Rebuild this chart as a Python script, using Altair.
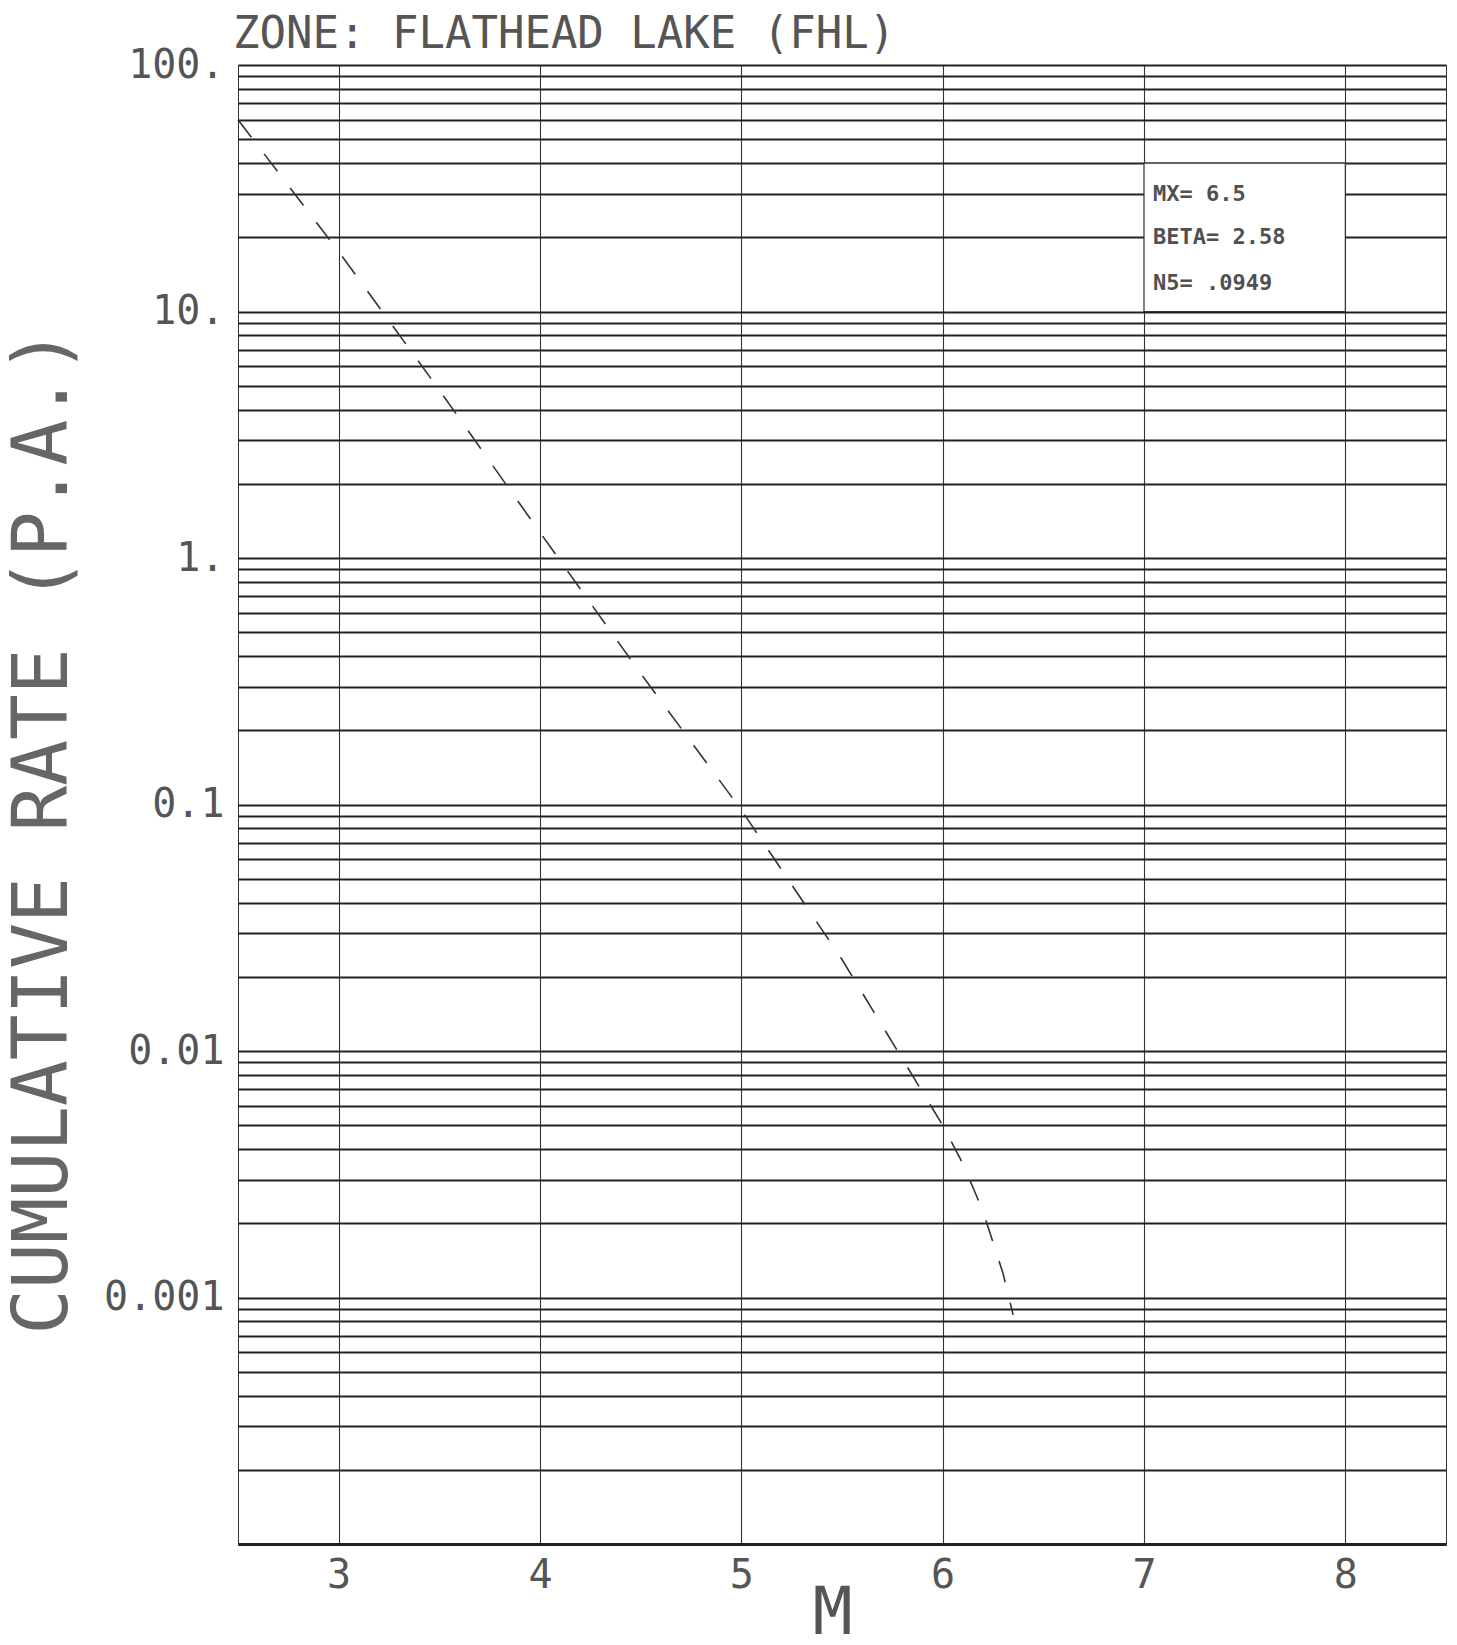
import altair as alt
import pandas as pd

# ---- data ----
curve_m = [2.5, 3.0, 3.5, 4.0, 4.5, 5.0, 5.5, 6.0, 6.1, 6.2, 6.3, 6.35]
curve_rate = [60, 17.5, 4.8, 1.27, 0.34, 0.095, 0.0235, 0.005, 0.0035, 0.00224, 0.00125, 0.00085]

x_ticks = [3, 4, 5, 6, 7, 8]
y_label_values = [100, 10, 1, 0.1, 0.01, 0.001]
y_label_text = ["100.", "10.", "1.", "0.1", "0.01", "0.001"]
grid_mantissas = [1, 2, 3, 4, 5, 6, 7, 8, 9]
grid_decades = [-4, -3, -2, -1, 0, 1]

box_m = [7.0, 8.0]
box_rate = [10, 40]
legend_lines = ["MX= 6.5", "BETA= 2.58", "N5= .0949"]
legend_rate = [30, 20, 13]
legend_m = 7.045

title_text = "ZONE: FLATHEAD LAKE (FHL)"

grid_values = [round(m * 10.0 ** d, 6) for d in grid_decades for m in grid_mantissas] + [100]

label_expr = "''"
for v, t in zip(reversed(y_label_values), reversed(y_label_text)):
    label_expr = f"abs(datum.value - {v}) < {v}*1e-6 ? '{t}' : ({label_expr})"

MONO = "DejaVu Sans Mono"
INK = "#333333"
TXT = "#555555"

xscale = alt.Scale(domain=[2.5, 8.5], nice=False, zero=False)
yscale = alt.Scale(type="log", domain=[0.0001, 100], nice=False)

curve_df = pd.DataFrame({"M": curve_m, "rate": curve_rate})
box_df = pd.DataFrame({"m1": [box_m[0]], "m2": [box_m[1]], "r1": [box_rate[0]], "r2": [box_rate[1]]})
legend_df = pd.DataFrame({"m": [legend_m] * len(legend_lines), "rate": legend_rate, "txt": legend_lines})
title_df = pd.DataFrame({"t": [title_text]})

x_axis = alt.Axis(
    values=x_ticks, format="d", grid=True, gridColor=INK, gridWidth=1.1, ticks=False,
    domain=True, domainColor="#222222", domainWidth=3,
    labelFont=MONO, labelFontSize=40, labelColor=TXT, labelPadding=11,
    title="M", titleFont=MONO, titleFontSize=66, titleFontWeight="normal",
    titleColor=TXT, titleX=594, titleY=89, titleBaseline="alphabetic",
)
y_axis = alt.Axis(
    values=grid_values, grid=True, gridColor="#222222", gridWidth=2.1, ticks=False,
    domain=False, labelExpr=label_expr, labelFont=MONO, labelFontSize=40,
    labelColor=TXT, labelPadding=14, labelBaseline="middle",
    title="CUMULATIVE RATE (P.A.)", titleFont=MONO, titleFontSize=76,
    titleFontWeight="normal", titleColor="#666666", titleAngle=-90,
    titleX=-172, titleY=766, titleAlign="center", titleBaseline="alphabetic",
)

line = alt.Chart(curve_df).mark_line(
    color=INK, strokeWidth=1.6, strokeDash=[22, 21]
).encode(
    x=alt.X("M:Q", scale=xscale, axis=x_axis),
    y=alt.Y("rate:Q", scale=yscale, axis=y_axis),
)

box = alt.Chart(box_df).mark_rect(fill="white", stroke=INK, strokeWidth=1.2).encode(
    x=alt.X("m1:Q", scale=xscale), x2="m2:Q",
    y=alt.Y("r1:Q", scale=yscale), y2="r2:Q",
)

legend = alt.Chart(legend_df).mark_text(
    align="left", baseline="middle", font=MONO, fontSize=22, fontWeight="bold", color="#505050"
).encode(
    x=alt.X("m:Q", scale=xscale),
    y=alt.Y("rate:Q", scale=yscale),
    text="txt:N",
)

title = alt.Chart(title_df).mark_text(
    align="left", baseline="alphabetic", font=MONO, fontSize=44, color=TXT
).encode(
    x=alt.value(-5), y=alt.value(-17), text="t:N"
)

chart = alt.layer(line, box, legend, title).properties(
    width=1208, height=1479,
    padding={"left": 230, "top": 57, "right": 2, "bottom": 92},
    autosize="none",
).configure_view(stroke=INK, strokeWidth=1)

chart.save("out.html", embed_options={"renderer": "svg", "actions": False})
